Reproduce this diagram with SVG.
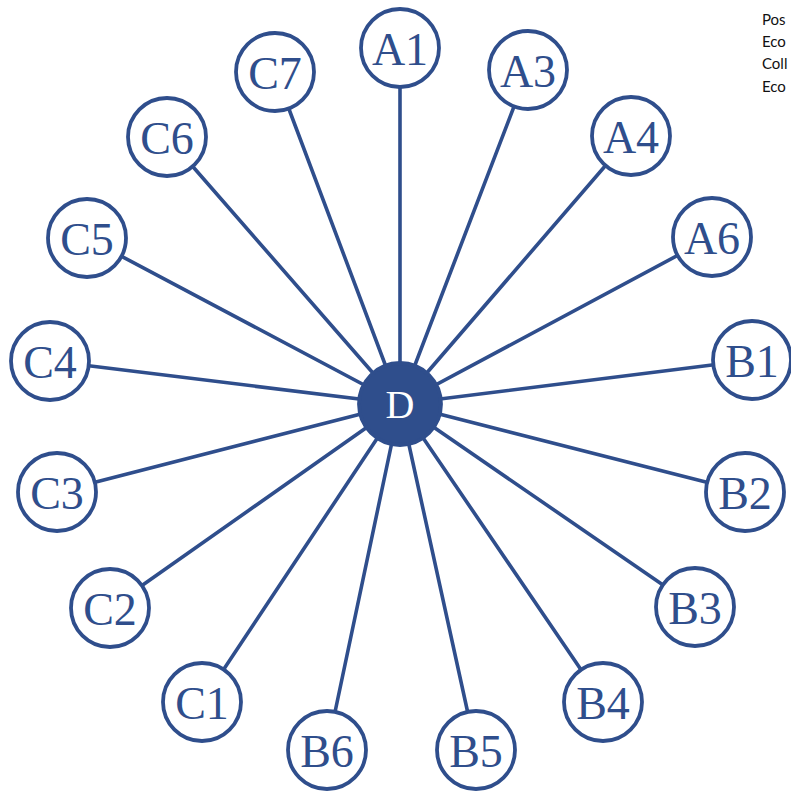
<svg xmlns="http://www.w3.org/2000/svg" width="791" height="793" viewBox="0 0 791 793">
<style>
.edge{stroke:#2f4e8c;stroke-width:3.6;fill:none;stroke-linecap:round}
.node circle{fill:#ffffff;stroke:#2f4e8c;stroke-width:3.8}
.node text{font-family:"Liberation Serif","DejaVu Serif",serif;font-size:46px;fill:#2f4e8c;text-anchor:middle}
#D circle{fill:#2f4e8c;stroke:#2f4e8c}
#D text{fill:#ffffff;font-size:40px}
.legend{font-family:Lato,"Open Sans",sans-serif;font-size:15px;fill:#111111}
</style>
<rect width="791" height="793" fill="#ffffff"/>
<g id="connectors">
<line class="edge" x1="400" y1="404" x2="400" y2="48"/>
<line class="edge" x1="400" y1="404" x2="528" y2="70"/>
<line class="edge" x1="400" y1="404" x2="631" y2="136"/>
<line class="edge" x1="400" y1="404" x2="712" y2="237"/>
<line class="edge" x1="400" y1="404" x2="752" y2="360"/>
<line class="edge" x1="400" y1="404" x2="745" y2="492"/>
<line class="edge" x1="400" y1="404" x2="695" y2="607"/>
<line class="edge" x1="400" y1="404" x2="603" y2="702"/>
<line class="edge" x1="400" y1="404" x2="476" y2="750"/>
<line class="edge" x1="400" y1="404" x2="327" y2="750"/>
<line class="edge" x1="400" y1="404" x2="202" y2="702"/>
<line class="edge" x1="400" y1="404" x2="110" y2="608"/>
<line class="edge" x1="400" y1="404" x2="57" y2="492"/>
<line class="edge" x1="400" y1="404" x2="50" y2="361"/>
<line class="edge" x1="400" y1="404" x2="87" y2="238"/>
<line class="edge" x1="400" y1="404" x2="167" y2="137"/>
<line class="edge" x1="400" y1="404" x2="275" y2="72"/>
</g>
<g id="A1" class="node"><circle cx="400" cy="48" r="39"/><text x="400" y="65">A1</text></g>
<g id="A3" class="node"><circle cx="528" cy="70" r="39"/><text x="528" y="87">A3</text></g>
<g id="A4" class="node"><circle cx="631" cy="136" r="39"/><text x="631" y="153">A4</text></g>
<g id="A6" class="node"><circle cx="712" cy="237" r="39"/><text x="712" y="254">A6</text></g>
<g id="B1" class="node"><circle cx="752" cy="360" r="39"/><text x="752" y="377">B1</text></g>
<g id="B2" class="node"><circle cx="745" cy="492" r="39"/><text x="745" y="509">B2</text></g>
<g id="B3" class="node"><circle cx="695" cy="607" r="39"/><text x="695" y="624">B3</text></g>
<g id="B4" class="node"><circle cx="603" cy="702" r="39"/><text x="603" y="719">B4</text></g>
<g id="B5" class="node"><circle cx="476" cy="750" r="39"/><text x="476" y="767">B5</text></g>
<g id="B6" class="node"><circle cx="327" cy="750" r="39"/><text x="327" y="767">B6</text></g>
<g id="C1" class="node"><circle cx="202" cy="702" r="39"/><text x="202" y="719">C1</text></g>
<g id="C2" class="node"><circle cx="110" cy="608" r="39"/><text x="110" y="625">C2</text></g>
<g id="C3" class="node"><circle cx="57" cy="492" r="39"/><text x="57" y="509">C3</text></g>
<g id="C4" class="node"><circle cx="50" cy="361" r="39"/><text x="50" y="378">C4</text></g>
<g id="C5" class="node"><circle cx="87" cy="238" r="39"/><text x="87" y="255">C5</text></g>
<g id="C6" class="node"><circle cx="167" cy="137" r="39"/><text x="167" y="154">C6</text></g>
<g id="C7" class="node"><circle cx="275" cy="72" r="39"/><text x="275" y="89">C7</text></g>
<g id="D" class="node"><circle cx="400" cy="404" r="41"/><text x="400" y="418">D</text></g>
<g id="legend">
<text class="legend" x="762" y="25">Pos</text>
<text class="legend" x="762" y="47">Eco</text>
<text class="legend" x="762" y="69">Coll</text>
<text class="legend" x="762" y="92">Eco</text>
</g>
</svg>
